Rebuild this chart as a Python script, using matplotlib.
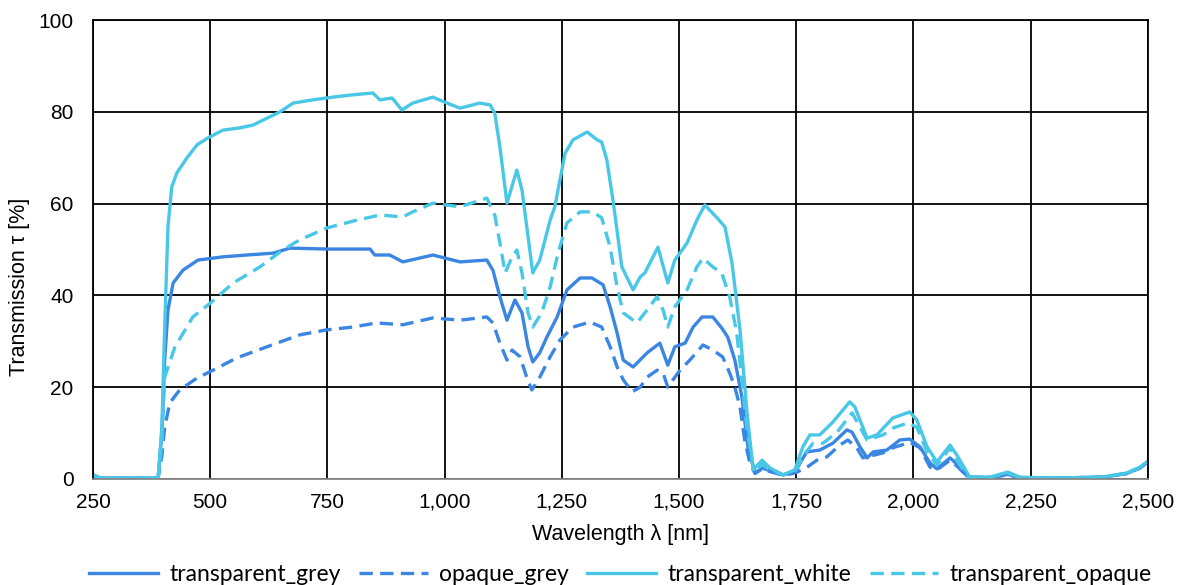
import matplotlib
matplotlib.use("Agg")
from matplotlib import pyplot as plt
from matplotlib.ticker import FuncFormatter, MultipleLocator
import numpy as np

# Wavelength grid (nm) and digitised transmission (%) per sample
wl_grey = [250, 265, 389, 397, 403, 410, 421, 442, 474, 527, 578, 634, 670, 749, 841, 851,
           883, 911, 975, 1033, 1090, 1103, 1118, 1133, 1150, 1165, 1178, 1188, 1203, 1218,
           1240, 1261, 1289, 1314, 1338, 1353, 1368, 1381, 1402, 1432, 1459, 1476, 1491,
           1513, 1530, 1549, 1572, 1591, 1604, 1619, 1634, 1647, 1662, 1677, 1694, 1722,
           1747, 1772, 1800, 1828, 1858, 1869, 1886, 1901, 1914, 1943, 1971, 1992, 2014,
           2035, 2050, 2078, 2095, 2116, 2163, 2201, 2227, 2297, 2404, 2455, 2483, 2500]
transparent_grey = [0.9, 0.2, 0.2, 10.0, 25.9, 36.8, 42.7, 45.5, 47.7, 48.4, 48.8, 49.2, 50.3,
                    50.1, 50.1, 48.8, 48.8, 47.3, 48.8, 47.3, 47.7, 45.5, 39.7, 34.6, 39.0,
                    36.2, 28.8, 25.5, 27.5, 30.9, 35.3, 41.2, 43.8, 43.8, 42.3, 37.5, 31.8,
                    25.9, 24.4, 27.5, 29.6, 24.8, 28.8, 29.6, 33.1, 35.3, 35.3, 32.9, 30.9,
                    25.9, 17.9, 7.0, 1.3, 2.4, 1.8, 0.9, 1.5, 5.9, 6.3, 7.8, 10.7, 10.2, 7.0,
                    4.6, 5.9, 6.3, 8.5, 8.7, 7.0, 3.5, 2.2, 4.6, 3.0, 0.4, 0.3, 1.0, 0.3, 0.2,
                    0.4, 1.2, 2.4, 3.8]

wl_opaque_grey = [250, 265, 389, 397, 403, 414, 435, 472, 506, 557, 621, 691, 749, 804, 855,
                  911, 975, 1033, 1090, 1103, 1118, 1133, 1144, 1161, 1175, 1186, 1203, 1225,
                  1246, 1274, 1310, 1335, 1353, 1368, 1381, 1400, 1417, 1432, 1453, 1466, 1476,
                  1487, 1502, 1523, 1551, 1572, 1593, 1608, 1619, 1630, 1640, 1651, 1662, 1677,
                  1694, 1722, 1747, 1772, 1794, 1815, 1843, 1860, 1879, 1892, 1935, 1956, 1992,
                  2014, 2035, 2050, 2078, 2095, 2116, 2163, 2201, 2227, 2297, 2404, 2455, 2483,
                  2500]
opaque_grey = [0.9, 0.2, 0.2, 5.0, 11.3, 16.6, 19.4, 22.0, 23.7, 26.4, 28.8, 31.4, 32.5, 33.1,
               34.0, 33.6, 35.1, 34.6, 35.3, 34.0, 29.6, 25.9, 28.1, 26.6, 22.2, 19.4, 22.2,
               26.6, 30.3, 33.1, 34.2, 33.1, 28.8, 24.4, 21.6, 19.0, 20.0, 22.2, 23.7, 23.1,
               20.0, 21.6, 23.7, 25.9, 29.2, 28.1, 26.6, 23.1, 20.0, 15.7, 8.5, 3.5, 1.2, 2.2,
               1.6, 0.8, 1.3, 2.5, 4.1, 4.8, 7.4, 8.5, 6.8, 4.6, 5.7, 6.8, 8.0, 6.8, 2.6, 2.0,
               4.1, 2.6, 0.4, 0.3, 0.9, 0.3, 0.2, 0.4, 1.2, 2.4, 3.8]

wl_white = [250, 265, 389, 397, 403, 410, 418, 429, 450, 472, 495, 527, 563, 591, 621, 649,
            677, 719, 762, 804, 847, 862, 888, 909, 932, 975, 1005, 1033, 1075, 1097, 1107,
            1118, 1133, 1154, 1165, 1188, 1203, 1225, 1235, 1257, 1274, 1304, 1325, 1335,
            1346, 1359, 1378, 1402, 1417, 1427, 1455, 1476, 1491, 1517, 1538, 1555, 1581,
            1598, 1613, 1630, 1645, 1658, 1677, 1694, 1722, 1747, 1764, 1779, 1800, 1828,
            1864, 1875, 1901, 1922, 1956, 1992, 2007, 2029, 2050, 2078, 2095, 2120, 2163,
            2201, 2227, 2297, 2404, 2455, 2483, 2500]
transparent_white = [0.9, 0.2, 0.2, 11.3, 33.1, 54.9, 63.6, 66.7, 69.9, 72.8, 74.3, 76.0, 76.5,
                     77.1, 78.6, 80.0, 81.9, 82.6, 83.2, 83.7, 84.1, 82.6, 83.0, 80.4, 81.9,
                     83.2, 81.9, 80.8, 81.9, 81.5, 79.7, 72.3, 60.1, 67.3, 63.0, 44.9, 47.7,
                     56.4, 59.3, 71.0, 73.9, 75.6, 73.9, 73.4, 69.5, 60.8, 46.2, 41.2, 44.0,
                     44.9, 50.5, 42.7, 47.7, 51.4, 56.4, 59.7, 56.9, 54.9, 47.0, 32.5, 14.4,
                     2.0, 4.1, 2.4, 0.9, 2.0, 7.0, 9.6, 9.6, 12.4, 16.8, 15.7, 8.9, 9.6, 13.3,
                     14.6, 12.9, 7.0, 3.7, 7.4, 4.8, 0.4, 0.4, 1.5, 0.4, 0.2, 0.4, 1.3, 2.6, 3.9]

wl_t_opaque = [250, 265, 389, 397, 403, 425, 463, 500, 549, 606, 655, 691, 749, 813, 862, 911,
               932, 975, 1033, 1090, 1107, 1118, 1129, 1144, 1154, 1165, 1178, 1188, 1207,
               1225, 1242, 1261, 1289, 1316, 1335, 1353, 1368, 1381, 1410, 1427, 1453, 1466,
               1476, 1491, 1517, 1538, 1551, 1572, 1591, 1608, 1623, 1634, 1645, 1660, 1677,
               1694, 1722, 1747, 1768, 1786, 1807, 1837, 1869, 1886, 1901, 1935, 1956, 1988,
               2007, 2029, 2050, 2078, 2095, 2116, 2163, 2201, 2227, 2297, 2404, 2455, 2483,
               2500]
transparent_opaque = [0.9, 0.2, 0.2, 8.0, 22.2, 28.8, 35.3, 38.3, 42.7, 46.2, 49.9, 52.1, 54.7,
                      56.4, 57.5, 57.1, 58.2, 60.1, 59.3, 61.2, 57.5, 51.4, 44.9, 48.4, 49.9,
                      44.9, 36.2, 33.1, 36.2, 41.8, 49.2, 55.8, 58.2, 58.2, 56.9, 50.5, 41.8,
                      36.2, 34.0, 36.2, 39.7, 36.8, 33.1, 37.5, 41.2, 46.2, 48.1, 46.2, 44.9,
                      39.7, 31.8, 21.6, 10.7, 1.5, 3.2, 2.0, 0.9, 1.7, 5.5, 7.8, 7.8, 10.2,
                      14.4, 11.3, 8.5, 9.6, 11.1, 12.2, 11.3, 5.9, 3.0, 6.8, 3.7, 0.4, 0.4, 1.3,
                      0.3, 0.2, 0.4, 1.3, 2.5, 3.9]

c_grey = "#3b86e3"
c_white = "#48c7e6"

plt.rcParams["font.family"] = ["Liberation Sans", "DejaVu Sans"]

fig = plt.figure(figsize=(11.81, 5.85), dpi=100)
ax = fig.add_axes([0.0787, 0.1812, 0.8933, 0.7846])

lw = 2.4
dash = (4, 2.2)
ax.plot(wl_grey, transparent_grey, color=c_grey, lw=lw, label="transparent_grey")
ax.plot(wl_opaque_grey, opaque_grey, color=c_grey, lw=lw, ls="--", dashes=dash,
        label="opaque_grey")
ax.plot(wl_white, transparent_white, color=c_white, lw=lw, label="transparent_white")
ax.plot(wl_t_opaque, transparent_opaque, color=c_white, lw=lw, ls="--", dashes=dash,
        label="transparent_opaque")

ax.set_xlim(250, 2500)
ax.set_ylim(0, 100)
ax.xaxis.set_major_locator(MultipleLocator(250))
ax.yaxis.set_major_locator(MultipleLocator(20))
ax.xaxis.set_major_formatter(FuncFormatter(lambda v, p: f"{int(v):,}"))
ax.grid(True, color="black", lw=1.3)
ax.set_axisbelow(True)
for s in ax.spines.values():
    s.set_color("black")
    s.set_linewidth(1.3)
ax.spines["bottom"].set_color("#888888")
ax.tick_params(length=0, labelsize=15)
ax.tick_params(axis="x", pad=10)
ax.tick_params(axis="y", pad=14)

ax.set_xlabel("Wavelength λ [nm]", fontsize=15.5, labelpad=9)
ax.set_ylabel("Transmission τ [%]", fontsize=15.5)
ax.yaxis.set_label_coords(-0.060, 0.418)

ax.legend(loc="upper center", bbox_to_anchor=(0.5, -0.165), ncol=4, frameon=False,
          prop={"family": ["Lato", "DejaVu Sans"], "size": 16.5}, handlelength=3.0,
          columnspacing=0.8, handletextpad=0.5, borderaxespad=0)

fig.savefig("out.png", dpi=100)
